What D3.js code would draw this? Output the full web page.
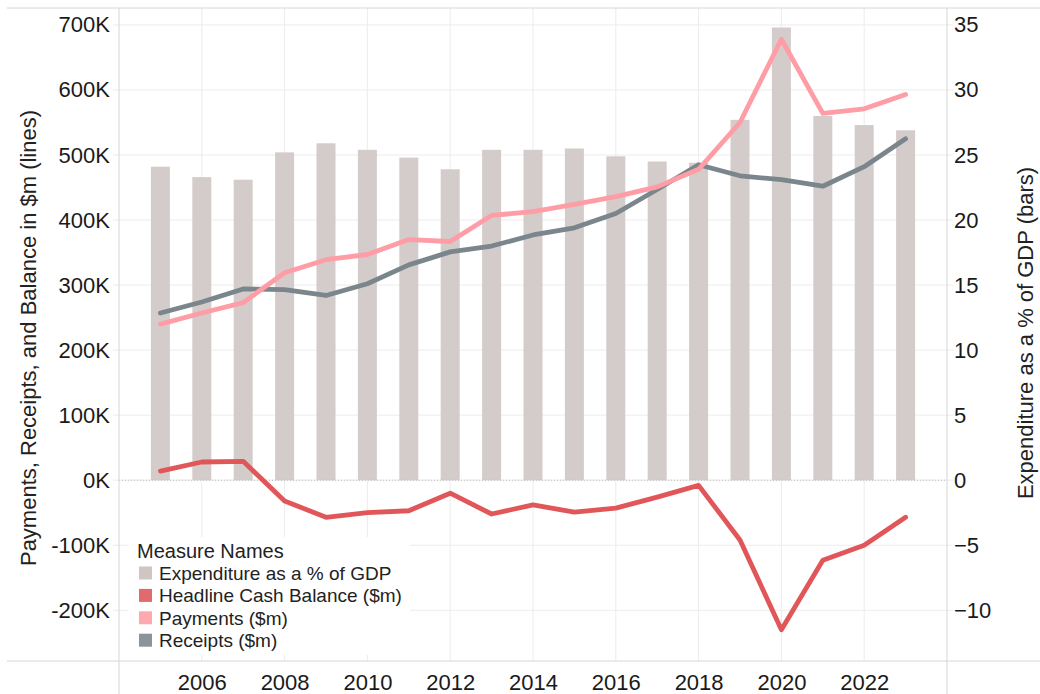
<!DOCTYPE html>
<html>
<head>
<meta charset="utf-8">
<script src="https://cdn.jsdelivr.net/npm/d3@7"></script>
<style>
  body { margin: 0; background: #fff; }
  svg { font-family: "Liberation Sans", Arial, sans-serif; }
</style>
</head>
<body>
<svg id="chart" width="1040" height="694"></svg>
<script>
const years = [2005, 2006, 2007, 2008, 2009, 2010, 2011, 2012, 2013, 2014,
               2015, 2016, 2017, 2018, 2019, 2020, 2021, 2022, 2023]
// % of GDP (bars, right axis)
const expenditure = [24.1, 23.3, 23.1, 25.2, 25.9, 25.4, 24.8, 23.9, 25.4, 25.4,
                     25.5, 24.9, 24.5, 24.4, 27.7, 34.8, 28.0, 27.3, 26.9]
// $m (lines, left axis)
const payments = [240000, 257000, 273000, 319000, 339000, 347000, 370000, 367000, 407000, 413000,
                  424000, 436000, 451000, 478000, 550000, 678000, 564000, 571000, 593000]
const receipts = [257000, 274000, 294000, 293000, 284000, 302000, 331000, 351000, 360000, 377000,
                  388000, 410000, 447000, 485000, 468000, 462000, 452000, 482000, 525000]
const balance = [14000, 28000, 29000, -32000, -57000, -50000, -47000, -20000, -52000, -38000,
                 -49000, -43000, -26000, -8000, -92000, -230000, -123000, -100000, -57000]

const leftTicks = [-200000, -100000, 0, 100000, 200000, 300000, 400000, 500000, 600000, 700000]
const rightTicks = [-10, -5, 0, 5, 10, 15, 20, 25, 30, 35]
const yearTicks = [2006, 2008, 2010, 2012, 2014, 2016, 2018, 2020, 2022]

const legendItems = [
  { name: 'Expenditure as a % of GDP', color: '#cfc6c4' },
  { name: 'Headline Cash Balance ($m)', color: '#e06a6c' },
  { name: 'Payments ($m)', color: '#ffa8b0' },
  { name: 'Receipts ($m)', color: '#8a949a' }
]

const plot = { left: 119, right: 947, top: 8, bottom: 661 }
const svg = d3.select('#chart')

const x = d3.scaleLinear().domain([2004, 2024]).range([plot.left, plot.right])
const yL = d3.scaleLinear().domain([-278000, 726000]).range([plot.bottom, plot.top])
const yR = d3.scaleLinear().domain([-13.9, 36.3]).range([plot.bottom, plot.top])

// grid
const grid = svg.append('g')
grid.selectAll('.hg')
    .data(leftTicks)
    .enter()
    .append('line')
    .attr('x1', plot.left - 6)
    .attr('x2', plot.right + 6)
    .attr('y1', d => yL(d))
    .attr('y2', d => yL(d))
    .attr('stroke', '#ececec')
    .attr('stroke-width', 1)
grid.selectAll('.vg')
    .data(yearTicks)
    .enter()
    .append('line')
    .attr('x1', d => x(d))
    .attr('x2', d => x(d))
    .attr('y1', plot.top)
    .attr('y2', plot.bottom)
    .attr('stroke', '#ececec')
    .attr('stroke-width', 1)

// bars
const barW = 19
svg.append('g')
    .selectAll('rect')
    .data(years)
    .enter()
    .append('rect')
    .attr('x', d => x(d) - barW / 2)
    .attr('width', barW)
    .attr('y', (d, i) => yR(expenditure[i]))
    .attr('height', (d, i) => yR(0) - yR(expenditure[i]))
    .attr('fill', '#d4cccb')

// zero line
svg.append('line')
    .attr('x1', plot.left)
    .attr('x2', plot.right)
    .attr('y1', yL(0))
    .attr('y2', yL(0))
    .attr('stroke', '#bbb')
    .attr('stroke-width', 1)
    .attr('stroke-dasharray', '1,2')

// lines
const line = d3.line()
    .x(d => x(d[0]))
    .y(d => yL(d[1]))

const series = [
  { values: receipts, color: '#7b868c' },
  { values: payments, color: '#ff9da7' },
  { values: balance, color: '#e15759' }
]
svg.append('g')
    .selectAll('path')
    .data(series)
    .enter()
    .append('path')
    .attr('d', s => line(years.map((y, i) => [y, s.values[i]])))
    .attr('fill', 'none')
    .attr('stroke', s => s.color)
    .attr('stroke-width', 4.8)
    .attr('stroke-linejoin', 'round')
    .attr('stroke-linecap', 'round')

// frame lines
const frame = svg.append('g').attr('stroke', '#d6d6d6').attr('stroke-width', 1)
frame.append('line').attr('x1', 7).attr('x2', 1040).attr('y1', plot.top).attr('y2', plot.top)
frame.append('line').attr('x1', 7).attr('x2', 1040).attr('y1', plot.bottom).attr('y2', plot.bottom)
frame.append('line').attr('x1', plot.left).attr('x2', plot.left).attr('y1', plot.top).attr('y2', 694)
frame.append('line').attr('x1', plot.right).attr('x2', plot.right).attr('y1', plot.top).attr('y2', 694)

// axes
const fmtK = d => (d / 1000) + 'K'
const leftAxis = svg.append('g')
    .attr('transform', `translate(${plot.left},0)`)
    .call(d3.axisLeft(yL).tickValues(leftTicks).tickFormat(fmtK).tickSize(0).tickPadding(9))
const rightAxis = svg.append('g')
    .attr('transform', `translate(${plot.right},0)`)
    .call(d3.axisRight(yR).tickValues(rightTicks).tickFormat(d3.format('d')).tickSize(0).tickPadding(7))
const bottomAxis = svg.append('g')
    .attr('transform', `translate(0,${plot.bottom})`)
    .call(d3.axisBottom(x).tickValues(yearTicks).tickFormat(d3.format('d')).tickSize(0).tickPadding(13))

;[leftAxis, rightAxis, bottomAxis].forEach(a => {
  a.select('.domain').remove()
  a.selectAll('text')
      .attr('font-size', 22)
      .attr('font-family', '"Liberation Sans", Arial, sans-serif')
      .attr('fill', '#1a1a1a')
})

// axis titles
svg.append('text')
    .attr('transform', 'translate(36,338) rotate(-90)')
    .attr('text-anchor', 'middle')
    .attr('font-size', 22)
    .attr('fill', '#222')
    .text('Payments, Receipts, and Balance in $m (lines)')
svg.append('text')
    .attr('transform', 'translate(1033,333) rotate(-90)')
    .attr('text-anchor', 'middle')
    .attr('font-size', 22)
    .attr('fill', '#222')
    .text('Expenditure as a % of GDP (bars)')

// legend
const legend = svg.append('g')
legend.append('rect')
    .attr('x', 128)
    .attr('y', 537)
    .attr('width', 282)
    .attr('height', 118)
    .attr('fill', '#fff')
legend.append('text')
    .attr('x', 137)
    .attr('y', 558)
    .attr('font-size', 20)
    .attr('fill', '#222')
    .text('Measure Names')
const items = legend.selectAll('.item')
    .data(legendItems)
    .enter()
    .append('g')
    .attr('transform', (d, i) => `translate(139,${573 + i * 22.4})`)
items.append('rect')
    .attr('x', 0)
    .attr('y', -6.5)
    .attr('width', 13)
    .attr('height', 13)
    .attr('fill', d => d.color)
items.append('text')
    .attr('x', 20)
    .attr('y', 7)
    .attr('font-size', 19)
    .attr('fill', '#222')
    .text(d => d.name)
</script>
</body>
</html>
